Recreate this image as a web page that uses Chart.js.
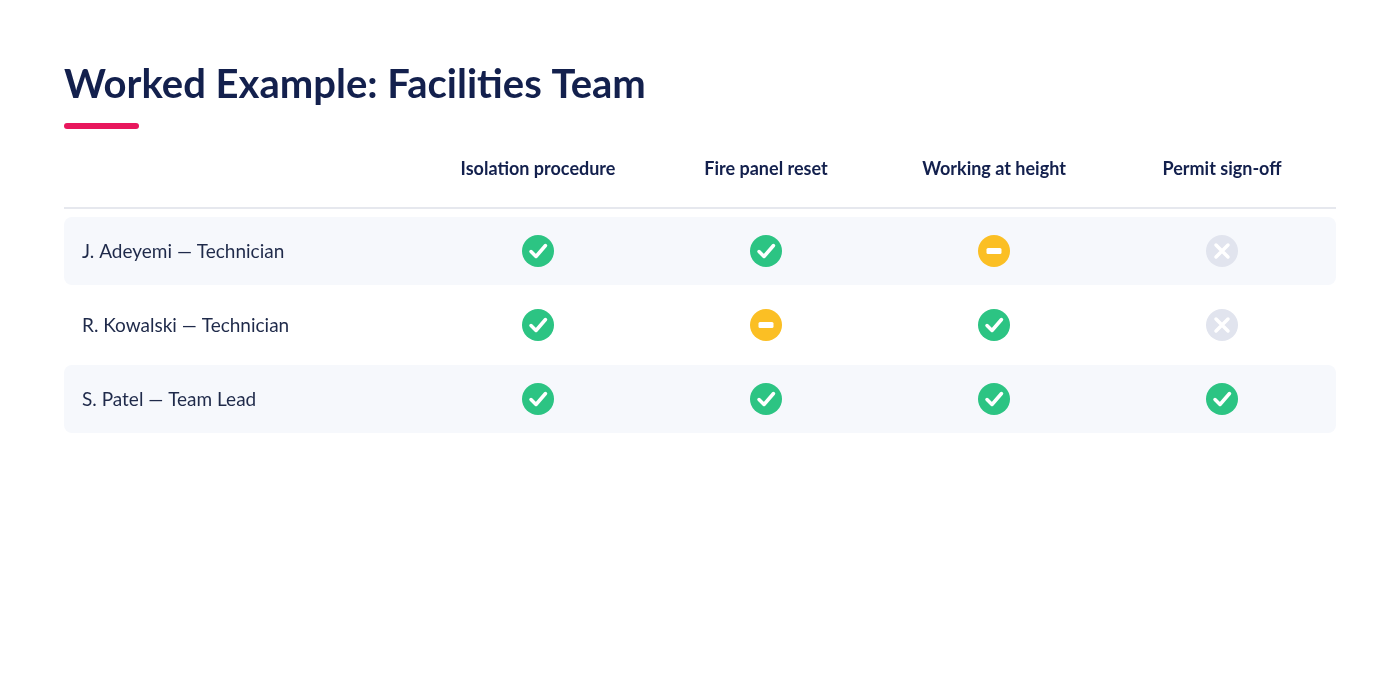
<!DOCTYPE html>
<html><head><meta charset="utf-8">
<script src="https://cdn.jsdelivr.net/npm/chart.js@4"></script>
<style>html,body{margin:0;padding:0;background:#fff}#w{width:1400px;height:700px}</style>
</head><body><div id="w"><canvas id="c"></canvas></div>
<script>
const title = "Worked Example: Facilities Team";
const columns = ["Isolation procedure","Fire panel reset","Working at height","Permit sign-off"];
const people = ["J. Adeyemi — Technician","R. Kowalski — Technician","S. Patel — Team Lead"];
const isolation = ["done","done","done"];
const firePanel = ["done","partial","done"];
const height = ["partial","done","done"];
const permit = ["none","none","done"];
const statusCols = [isolation, firePanel, height, permit];

const pts = [];
statusCols.forEach((col, ci) => col.forEach((s, ri) => pts.push({x: ci, y: ri, s})));

const F = "Lato, 'Open Sans', sans-serif";
const plugin = {
  id: 'tbl',
  beforeDatasetsDraw(chart) {
    const ctx = chart.ctx, ys = chart.scales.y;
    ctx.save();
    ctx.fillStyle = '#13204d';
    ctx.font = `bold 40px ${F}`;
    ctx.textBaseline = 'alphabetic';
    ctx.fillText(title, 64, 98);
    ctx.fillStyle = '#e8175d';
    ctx.beginPath(); ctx.roundRect(64, 123, 75, 6, 3); ctx.fill();
    ctx.font = `bold 18px ${F}`; ctx.textAlign = 'center'; ctx.textBaseline = 'middle';
    ctx.fillStyle = '#13204d';
    const xs = chart.scales.x;
    columns.forEach((c, i) => ctx.fillText(c, xs.getPixelForValue(i), 169));
    ctx.fillStyle = '#e6e8ee'; ctx.fillRect(64, 207, 1272, 2);
    people.forEach((p, i) => {
      const y = ys.getPixelForValue(i);
      if (i % 2 === 0) {
        ctx.fillStyle = '#f6f8fc';
        ctx.beginPath(); ctx.roundRect(64, y - 34, 1272, 68, 8); ctx.fill();
      }
      ctx.fillStyle = '#1f2a4a'; ctx.font = `19px ${F}`; ctx.textAlign = 'left';
      ctx.fillText(p, 82, y + 1);
    });
    ctx.restore();
  },
  afterDatasetsDraw(chart) {
    const ctx = chart.ctx;
    const meta = chart.getDatasetMeta(0);
    ctx.save();
    meta.data.forEach((el, i) => {
      const s = pts[i].s, x = el.x, y = el.y, r = 16;
      ctx.beginPath(); ctx.arc(x, y, r, 0, Math.PI * 2);
      ctx.fillStyle = s === 'done' ? '#2cc483' : s === 'partial' ? '#fbbf24' : '#e1e4ee';
      ctx.fill();
      ctx.strokeStyle = '#fff'; ctx.fillStyle = '#fff'; ctx.lineCap = 'round'; ctx.lineJoin = 'round';
      if (s === 'done') {
        ctx.lineWidth = 3.5; ctx.beginPath();
        ctx.moveTo(x - 7, y + 0.5); ctx.lineTo(x - 2, y + 5.5); ctx.lineTo(x + 7.5, y - 5.5); ctx.stroke();
      } else if (s === 'partial') {
        ctx.beginPath(); ctx.roundRect(x - 7.5, y - 3, 15, 6, 1.5); ctx.fill();
      } else {
        ctx.lineWidth = 3.5; ctx.beginPath();
        ctx.moveTo(x - 6, y - 6); ctx.lineTo(x + 6, y + 6);
        ctx.moveTo(x + 6, y - 6); ctx.lineTo(x - 6, y + 6); ctx.stroke();
      }
    });
    ctx.restore();
  }
};

new Chart(document.getElementById('c'), {
  type: 'scatter',
  data: { datasets: [{ data: pts, pointRadius: 0, pointHoverRadius: 0 }] },
  options: {
    responsive: true, maintainAspectRatio: false, animation: false,
    layout: { padding: { left: 424, right: 64, top: 214, bottom: 264 } },
    plugins: { legend: { display: false }, tooltip: { enabled: false } },
    scales: {
      x: { type: 'linear', min: -0.5, max: 3.5, display: false },
      y: { type: 'linear', min: -0.5, max: 2.5, reverse: true, display: false }
    }
  },
  plugins: [plugin]
});
</script></body></html>
